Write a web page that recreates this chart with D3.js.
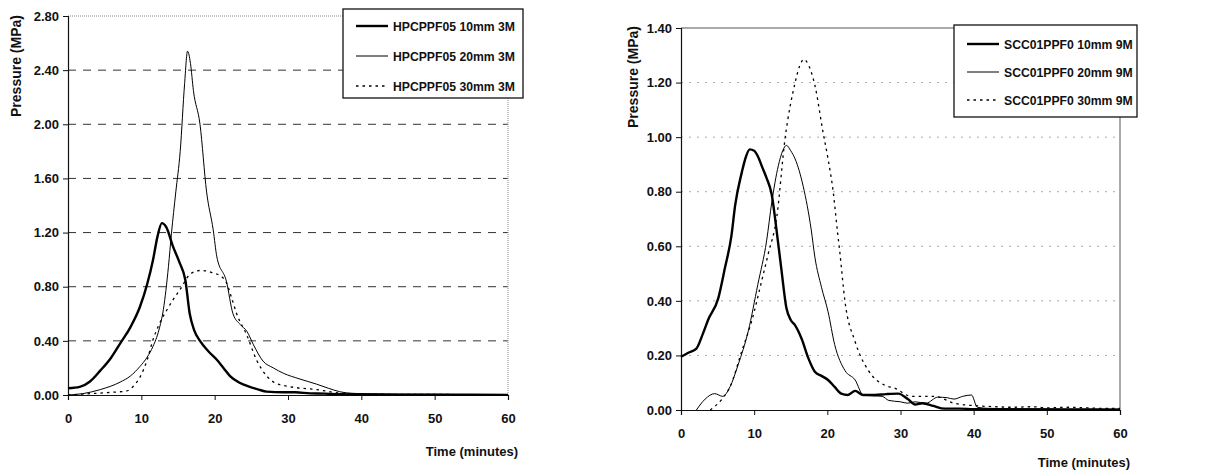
<!DOCTYPE html>
<html lang="en">

<head>
    <meta charset="UTF-8">
    <title>Pressure vs time</title>
    <script src="https://d3js.org/d3.v7.min.js"></script>
    <style>
        body {
            margin: 0;
            background: #fff;
        }

        text {
            font-family: 'Liberation Sans', Arial, sans-serif;
            font-weight: bold;
            fill: #111;
        }

        .tick-label {
            font-size: 13px;
        }

        .axis-title {
            font-size: 13px;
        }

        .y-title {
            font-size: 14px;
        }

        .legend text {
            font-size: 12.2px;
        }
    </style>
</head>

<body>
    <svg id="chart" width="1215" height="470"></svg>
    <script>
        // ---- data (time in minutes, pressure in MPa) ----
        const leftNames = ["HPCPPF05 10mm 3M", "HPCPPF05 20mm 3M", "HPCPPF05 30mm 3M"];
        const rightNames = ["SCC01PPF0 10mm 9M", "SCC01PPF0 20mm 9M", "SCC01PPF0 30mm 9M"];

        const leftTicksY = [0, 0.4, 0.8, 1.2, 1.6, 2.0, 2.4, 2.8];
        const rightTicksY = [0, 0.2, 0.4, 0.6, 0.8, 1.0, 1.2, 1.4];
        const ticksX = [0, 10, 20, 30, 40, 50, 60];

        const hpc10 = [[0, 0.05], [1.6, 0.06], [3, 0.1], [4.4, 0.18], [5.8, 0.27], [7.1, 0.38], [8.5, 0.5], [9.8, 0.65],
        [10.8, 0.82], [11.6, 1.0], [12.2, 1.17], [12.8, 1.27], [13.4, 1.24], [14.3, 1.1], [15.2, 0.98], [16, 0.85],
        [16.6, 0.6], [17.2, 0.48], [18, 0.4], [19.2, 0.32], [20.3, 0.26], [21.2, 0.2], [22.1, 0.14], [23.4, 0.09],
        [24.8, 0.06], [26, 0.04], [27.1, 0.025], [29.4, 0.02], [31, 0.02], [33, 0.012], [35, 0.01], [37, 0.005],
        [40, 0.004], [45, 0.003], [50, 0.003], [55, 0.002], [60, 0.001]];

        const hpc20 = [[0, 0.0], [2, 0.01], [4.4, 0.04], [7.1, 0.095], [8.5, 0.14], [9.8, 0.21], [10.8, 0.28], [11.6, 0.36],
        [12.4, 0.48], [13, 0.63], [13.7, 0.95], [14.1, 1.19], [14.7, 1.5], [15.3, 1.8], [15.9, 2.3], [16.3, 2.54],
        [16.7, 2.45], [17.1, 2.25], [18, 2.0], [18.9, 1.5], [19.8, 1.22], [20.3, 1.02], [21.6, 0.84], [22.5, 0.6],
        [23.5, 0.52], [24.4, 0.47], [25.3, 0.37], [26.6, 0.25], [28, 0.2], [29.4, 0.16], [31.5, 0.12], [33.9, 0.08],
        [35.5, 0.05], [37, 0.025], [39, 0.012], [42, 0.008], [45, 0.006], [50, 0.005], [55, 0.003], [60, 0.002]];

        const hpc30 = [[0, 0.0], [3, 0.01], [6, 0.02], [8, 0.03], [9, 0.07], [9.8, 0.13], [10.8, 0.26], [11.6, 0.41],
        [12.5, 0.53], [13.5, 0.63], [14.4, 0.71], [15.3, 0.78], [16.6, 0.89], [18, 0.92], [19, 0.915], [19.8, 0.9],
        [20.8, 0.88], [21.6, 0.83], [22.3, 0.72], [23, 0.6], [24.4, 0.44], [25.7, 0.26], [27.1, 0.14], [28.2, 0.09],
        [29.4, 0.07], [31, 0.055], [33, 0.045], [34.5, 0.035], [36.2, 0.02], [38, 0.01], [41, 0.006], [45, 0.005],
        [50, 0.004], [55, 0.003], [60, 0.002]];

        const scc10 = [[0, 0.195], [1, 0.21], [2.1, 0.225], [3, 0.28], [3.7, 0.33], [5.1, 0.41], [6, 0.52], [6.9, 0.64],
        [7.4, 0.75], [8.3, 0.87], [8.9, 0.93], [9.4, 0.955], [10, 0.95], [10.5, 0.93], [11.1, 0.89], [11.7, 0.85],
        [12.4, 0.79], [13.1, 0.65], [13.7, 0.52], [14.4, 0.375], [15, 0.33], [15.6, 0.31], [16.5, 0.26], [17.4, 0.19],
        [18.3, 0.14], [19.2, 0.125], [20.1, 0.11], [21, 0.085], [21.9, 0.06], [22.8, 0.055], [23.8, 0.07], [24.9, 0.055],
        [26.5, 0.055], [28, 0.058], [29.7, 0.06], [31, 0.04], [32, 0.02], [33, 0.025], [34.5, 0.015], [36, 0.005],
        [38, 0.005], [40, 0.003], [45, 0.002], [50, 0.002], [55, 0.001], [60, 0.001]];

        const scc20 = [[2.1, 0.0], [3.3, 0.04], [4.6, 0.06], [5.7, 0.05], [6.7, 0.085], [7.8, 0.165], [9.2, 0.29],
        [10.5, 0.46], [11.7, 0.62], [12.4, 0.76], [13.3, 0.895], [13.9, 0.95], [14.4, 0.97], [15, 0.95], [15.6, 0.92],
        [16.7, 0.82], [17.8, 0.66], [18.3, 0.56], [19.2, 0.45], [20.1, 0.36], [21, 0.24], [22.4, 0.145], [23.8, 0.11],
        [24.9, 0.055], [26.2, 0.052], [27.5, 0.05], [28.4, 0.035], [30, 0.03], [31, 0.025], [32, 0.03], [33.5, 0.025],
        [35.1, 0.047], [36.4, 0.045], [37.3, 0.04], [38.5, 0.05], [39.7, 0.055], [40.5, 0.01], [42, 0.006],
        [45, 0.005], [50, 0.004], [55, 0.004], [60, 0.003]];

        const scc30 = [[4, 0.0], [5.6, 0.04], [6.7, 0.085], [8.3, 0.215], [9.7, 0.33], [11, 0.47], [11.9, 0.57],
        [13.1, 0.71], [14.2, 0.99], [15.6, 1.2], [16.2, 1.26], [16.8, 1.285], [17.5, 1.26], [18.3, 1.19], [19.4, 1.02],
        [20.1, 0.92], [20.8, 0.8], [21.4, 0.65], [21.7, 0.58], [22.4, 0.4], [23.8, 0.25], [25.6, 0.145], [27.9, 0.09],
        [29.2, 0.08], [31.5, 0.05], [33, 0.05], [34.7, 0.05], [37.3, 0.025], [40.6, 0.015], [43, 0.012], [45.2, 0.01],
        [48, 0.012], [50, 0.008], [53, 0.01], [55, 0.008], [58, 0.006], [60, 0.006]];

        const svg = d3.select("#chart");

        const lineStyles = [
            { width: 2.4, dash: null },
            { width: 1, dash: null },
            { width: 1.3, dash: "2.5,4" }
        ];

        function drawChart(cfg) {
            const x = d3.scaleLinear().domain([0, 60]).range([cfg.left, cfg.right]);
            const y = d3.scaleLinear().domain([0, cfg.maxY]).range([cfg.bottom, cfg.top]);
            const g = svg.append("g");

            // grid lines
            g.selectAll(".grid")
                .data(cfg.ticksY.filter(d => d > 0 && d < cfg.maxY))
                .enter()
                .append("line")
                .attr("x1", x(0)).attr("x2", x(60))
                .attr("y1", d => y(d)).attr("y2", d => y(d))
                .attr("stroke", cfg.gridColor)
                .attr("stroke-width", 1)
                .attr("stroke-dasharray", cfg.gridDash);

            // plot frame: top and right
            g.append("line")
                .attr("x1", x(0)).attr("x2", x(60))
                .attr("y1", y(cfg.maxY)).attr("y2", y(cfg.maxY))
                .attr("stroke", cfg.frameColor)
                .attr("stroke-dasharray", cfg.frameDash);
            g.append("line")
                .attr("x1", x(60)).attr("x2", x(60))
                .attr("y1", y(cfg.maxY)).attr("y2", y(0))
                .attr("stroke", cfg.frameColor)
                .attr("stroke-dasharray", cfg.frameDash);

            // axes
            const yAxis = d3.axisLeft(y).tickValues(cfg.ticksY).tickFormat(d3.format(".2f")).tickSize(5).tickPadding(4);
            const xAxis = d3.axisBottom(x).tickValues(ticksX).tickFormat(d3.format("d")).tickSize(5).tickPadding(10);

            const gy = g.append("g").attr("transform", `translate(${cfg.left},0)`).call(yAxis);
            const gx = g.append("g").attr("transform", `translate(0,${cfg.bottom})`).call(xAxis);
            [gy, gx].forEach(a => {
                a.selectAll(".domain").attr("stroke", "#111").attr("stroke-width", 1.2);
                a.selectAll(".tick line").attr("stroke", "#111");
                a.selectAll(".tick text").attr("class", "tick-label").attr("fill", "#111").attr("font-family", null).attr("font-size", null);
            });
            gx.selectAll(".tick text").attr("dy", "1em");

            // series
            const line = d3.line()
                .x(d => x(d[0]))
                .y(d => y(d[1]))
                .curve(d3.curveMonotoneX);

            g.selectAll(".series")
                .data(cfg.series)
                .enter()
                .append("path")
                .attr("d", d => line(d))
                .attr("fill", "none")
                .attr("stroke", "#000")
                .attr("stroke-linejoin", "round")
                .attr("stroke-width", (d, i) => lineStyles[i].width)
                .attr("stroke-dasharray", (d, i) => lineStyles[i].dash);

            // axis titles
            g.append("text")
                .attr("class", "axis-title")
                .attr("x", cfg.xTitleX)
                .attr("y", cfg.xTitleY)
                .attr("text-anchor", "end")
                .text("Time (minutes)");

            g.append("text")
                .attr("class", "y-title")
                .attr("transform", `translate(${cfg.yTitleX},${cfg.yTitleY})rotate(-90)`)
                .attr("text-anchor", "middle")
                .text("Pressure (MPa)");

            // legend
            const lg = g.append("g").attr("class", "legend");
            lg.append("rect")
                .attr("x", cfg.legend.x).attr("y", cfg.legend.y)
                .attr("width", cfg.legend.w).attr("height", cfg.legend.h)
                .attr("fill", "#fff")
                .attr("stroke", "#111")
                .attr("stroke-width", 1.3);

            const entries = lg.selectAll(".entry")
                .data(cfg.names)
                .enter()
                .append("g")
                .attr("transform", (d, i) => `translate(${cfg.legend.x + 13},${cfg.legend.y + cfg.legend.first + i * cfg.legend.step})`);

            entries.append("line")
                .attr("x1", 0).attr("x2", 32)
                .attr("y1", 0).attr("y2", 0)
                .attr("stroke", "#000")
                .attr("stroke-width", (d, i) => lineStyles[i].width)
                .attr("stroke-dasharray", (d, i) => lineStyles[i].dash);

            entries.append("text")
                .attr("x", 37)
                .attr("y", 4.5)
                .text(d => d);
        }

        drawChart({
            left: 68, right: 508, top: 16, bottom: 395, maxY: 2.8,
            ticksY: leftTicksY,
            series: [hpc10, hpc20, hpc30],
            names: leftNames,
            gridColor: "#333", gridDash: "8,7",
            frameColor: "#888", frameDash: "1,1",
            xTitleX: 518, xTitleY: 456,
            yTitleX: 21, yTitleY: 66,
            legend: { x: 343, y: 9, w: 180, h: 89, first: 17, step: 30 }
        });

        drawChart({
            left: 681, right: 1120, top: 28, bottom: 410, maxY: 1.4,
            ticksY: rightTicksY,
            series: [scc10, scc20, scc30],
            names: rightNames,
            gridColor: "#aaa", gridDash: "2,6",
            frameColor: "#555", frameDash: null,
            xTitleX: 1130, xTitleY: 467,
            yTitleX: 638, yTitleY: 77,
            legend: { x: 954, y: 25, w: 183, h: 92, first: 19, step: 28 }
        });
    </script>
</body>

</html>
